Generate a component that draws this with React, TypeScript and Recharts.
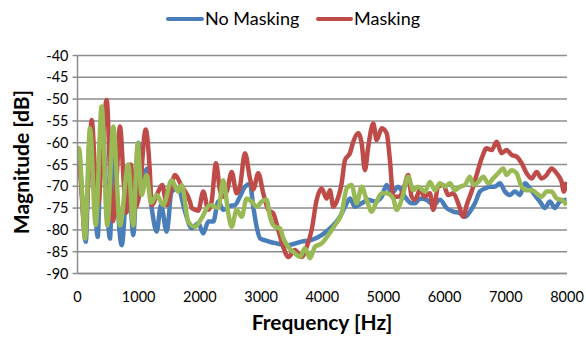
import React from 'react';
import { LineChart, Line, XAxis, YAxis, CartesianGrid } from 'recharts';

const xTicks = [0, 1000, 2000, 3000, 4000, 5000, 6000, 7000, 8000];
const yTicks = [-90, -85, -80, -75, -70, -65, -60, -55, -50, -45, -40];

const noMaskingFreq = [0, 25, 134, 204, 270, 330, 395, 466, 531, 585, 645, 722, 830, 912, 993, 1075, 1131, 1212, 1294, 1364, 1458, 1539, 1647, 1757, 1866, 1974, 2056, 2137, 2219, 2301, 2382, 2492, 2574, 2655, 2737, 2819, 2873, 2928, 2982, 3092, 3255, 3444, 3663, 3827, 3990, 4154, 4289, 4371, 4453, 4534, 4644, 4752, 4861, 4971, 5052, 5134, 5242, 5351, 5461, 5515, 5596, 5706, 5814, 5923, 6033, 6141, 6250, 6332, 6414, 6495, 6577, 6659, 6740, 6822, 6904, 6985, 7067, 7149, 7230, 7312, 7394, 7475, 7557, 7639, 7721, 7802, 7884, 7993];
const noMaskingDb = [-62, -63, -82.7, -58, -70, -81.6, -54, -70, -82, -58, -72, -83.5, -66, -81.2, -60, -68, -66, -75, -80.4, -74.3, -80.4, -71.2, -70.5, -75.8, -79.6, -78.5, -80.8, -78.1, -78.1, -73.5, -75.4, -74.5, -74.3, -72.4, -70.1, -69.5, -74.7, -79.3, -81.9, -82.5, -83.1, -83.5, -82.7, -82.3, -81.2, -79.3, -77, -74.7, -72.8, -74.7, -73.9, -73.1, -73.5, -72.4, -69.7, -71.6, -70.1, -72.4, -73.9, -73.9, -72.8, -73.1, -74.3, -73.1, -75, -75.8, -76.2, -77, -75.8, -73.9, -71.2, -70.5, -70.1, -70.1, -69.3, -71.2, -72, -71.2, -72, -69.3, -70.5, -72, -73.5, -75, -73.5, -75, -73.5, -73.1];

const maskingFreq = [0, 25, 123, 180, 232, 300, 340, 400, 477, 530, 580, 640, 694, 760, 800, 870, 940, 1010, 1114, 1180, 1212, 1320, 1386, 1458, 1593, 1703, 1838, 1866, 1974, 2056, 2137, 2192, 2263, 2328, 2382, 2447, 2520, 2601, 2655, 2737, 2819, 2873, 2954, 3036, 3118, 3199, 3281, 3363, 3444, 3554, 3663, 3745, 3827, 3909, 3990, 4072, 4126, 4180, 4235, 4317, 4371, 4453, 4507, 4589, 4644, 4698, 4752, 4834, 4889, 4971, 5052, 5106, 5160, 5242, 5324, 5405, 5461, 5515, 5596, 5677, 5760, 5814, 5896, 5978, 6059, 6141, 6222, 6306, 6360, 6441, 6523, 6605, 6686, 6768, 6850, 6931, 7013, 7095, 7176, 7258, 7340, 7422, 7503, 7585, 7667, 7748, 7830, 7912, 7949, 7993];
const maskingDb = [-63, -64, -80, -68, -54.8, -70, -74, -62, -50.2, -66, -78, -68, -56.3, -70, -76, -65, -75, -72, -57, -66, -74.3, -71.2, -69.7, -74.3, -67.4, -70, -73.5, -75, -75.6, -71.2, -75.4, -73.5, -64.7, -70.9, -72.4, -70.9, -66.7, -71.6, -70.1, -62.4, -68.2, -70.7, -67, -71.6, -75.4, -76.2, -80, -83.9, -86.2, -84.6, -86.2, -83.9, -80, -73.1, -70.5, -72.8, -70.9, -74.7, -73.5, -69.3, -64, -62.4, -59.8, -57.8, -60.1, -66.3, -60.9, -55.6, -59.4, -56.7, -57.8, -64, -72.4, -72.4, -70.9, -67.4, -72.4, -73.1, -70.9, -72.4, -71.6, -75.4, -70.1, -69.7, -72, -71.6, -73.9, -77, -74.3, -71.2, -67.4, -63.6, -61.3, -61.7, -59.8, -62.4, -61.7, -62.8, -63.2, -64.7, -67, -68.2, -66.7, -68.2, -67.4, -65.9, -67, -69, -71.2, -69];

const thirdFreq = [0, 25, 123, 204, 297, 395, 487, 585, 694, 830, 912, 984, 1049, 1131, 1201, 1294, 1402, 1539, 1647, 1703, 1810, 1920, 2029, 2165, 2301, 2382, 2464, 2519, 2601, 2683, 2764, 2846, 2928, 3010, 3092, 3145, 3227, 3309, 3363, 3444, 3554, 3636, 3717, 3799, 3881, 3990, 4098, 4208, 4317, 4399, 4480, 4562, 4644, 4725, 4807, 4889, 4971, 5052, 5160, 5216, 5297, 5405, 5487, 5569, 5678, 5760, 5842, 5923, 6005, 6087, 6168, 6250, 6332, 6413, 6468, 6549, 6631, 6713, 6794, 6876, 6958, 7013, 7095, 7176, 7258, 7340, 7422, 7503, 7585, 7667, 7748, 7830, 7912, 7993];
const thirdDb = [-62, -61.3, -82, -56.7, -78.9, -51.7, -79, -56.3, -79, -65, -79, -60.1, -72, -67.4, -73.8, -72, -74.3, -68.6, -71.2, -69.7, -78.1, -79.3, -77.3, -74.3, -75, -68.6, -76.2, -79.3, -75.4, -77, -72.8, -73.5, -74.7, -73.5, -73.1, -77, -79.3, -79.6, -81.9, -83.9, -85.4, -86.2, -84.2, -86.5, -83.9, -83.1, -81.2, -78.9, -76.2, -70.5, -69.7, -73.9, -70.1, -73.1, -75.8, -73.5, -71.6, -71.6, -72.8, -75.4, -73.1, -67.8, -70.9, -70.1, -71.2, -69, -70.9, -69.3, -70.1, -69.3, -70.9, -70.1, -69.7, -67.8, -69.7, -69, -67.8, -69.3, -68.2, -67, -65.9, -67.4, -66.3, -67, -70.1, -70.9, -70.9, -71.6, -72.4, -71.2, -71.2, -72.8, -73.1, -74.3];

const zip = (f: number[], d: number[]) => f.map((x, i) => ({ f: x, v: d[i] }));
const noMaskingData = zip(noMaskingFreq, noMaskingDb);
const maskingData = zip(maskingFreq, maskingDb);
const thirdData = zip(thirdFreq, thirdDb);

const BLUE = '#4A7EBB';
const RED = '#BE4B48';
const GREEN = '#98B954';
const GRID = '#8C8C8C';
const FONT = 'Lato, "Liberation Sans", sans-serif';

export default function App() {
  return (
    <div style={{ position: 'absolute', left: 0, top: 0, width: 586, height: 342, background: '#fff' }}>
      <LineChart width={586} height={342} margin={{ top: 55.5, right: 19, bottom: 38.5, left: 27.5 }}>
        <CartesianGrid horizontal vertical={false} stroke={GRID} strokeWidth={1.5} />
        <XAxis
          type="number"
          dataKey="f"
          domain={[0, 8000]}
          ticks={xTicks}
          interval={0}
          allowDataOverflow
          height={30}
          tickLine={false}
          tickSize={0}
          tickMargin={18}
          axisLine={{ stroke: GRID, strokeWidth: 1.5 }}
          tick={{ fontSize: 14.5, fill: '#000', fontFamily: FONT }}
          label={{
            content: () => (
              <text x={322} y={325} textAnchor="middle" dominantBaseline="middle" fontFamily={FONT} fontWeight="bold" fontSize={21} fill="#000">
                Frequency [Hz]
              </text>
            ),
          }}
        />
        <YAxis
          type="number"
          domain={[-90, -40]}
          ticks={yTicks}
          interval={0}
          allowDataOverflow
          width={50}
          tickSize={5}
          tickMargin={4}
          tickLine={{ stroke: GRID, strokeWidth: 1.5 }}
          axisLine={{ stroke: GRID, strokeWidth: 1.5 }}
          tick={{ fontSize: 14.5, fill: '#000', fontFamily: FONT }}
          label={{
            content: () => (
              <text x={24} y={162} textAnchor="middle" dominantBaseline="middle" fontFamily={FONT} fontWeight="bold" fontSize={21} fill="#000" transform="rotate(-90 24 162)">
                Magnitude [dB]
              </text>
            ),
          }}
        />
        <Line type="monotone" data={noMaskingData} dataKey="v" name="No Masking" stroke={BLUE} strokeWidth={4.5} dot={false} activeDot={false} isAnimationActive={false} strokeLinejoin="round" />
        <Line type="monotone" data={maskingData} dataKey="v" name="Masking" stroke={RED} strokeWidth={4.5} dot={false} activeDot={false} isAnimationActive={false} strokeLinejoin="round" />
        <Line type="monotone" data={thirdData} dataKey="v" name="Third" legendType="none" stroke={GREEN} strokeWidth={4.5} dot={false} activeDot={false} isAnimationActive={false} strokeLinejoin="round" />
      </LineChart>
      <div style={{ position: 'absolute', left: 0, top: 0, width: 586, height: 38, fontFamily: FONT, fontSize: 18, color: '#000' }}>
        <div style={{ position: 'absolute', left: 166, top: 16.5, width: 38, height: 4.5, background: BLUE, borderRadius: 2 }} />
        <div style={{ position: 'absolute', left: 205, top: 7, lineHeight: '22px' }}>No Masking</div>
        <div style={{ position: 'absolute', left: 316, top: 16.5, width: 37, height: 4.5, background: RED, borderRadius: 2 }} />
        <div style={{ position: 'absolute', left: 354, top: 7, lineHeight: '22px' }}>Masking</div>
      </div>
    </div>
  );
}
